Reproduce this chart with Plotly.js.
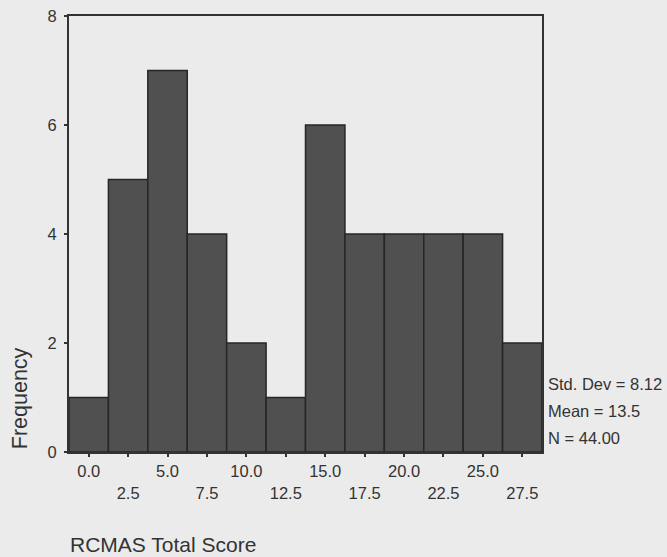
<!DOCTYPE html>
<html>
<head>
<meta charset="utf-8">
<script src="https://cdn.plot.ly/plotly-3.0.1.min.js"></script>
<style>html,body{margin:0;padding:0;background:#ebebeb;}</style>
</head>
<body>
<div id="chart" style="width:667px;height:557px;"></div>
<script>
var binCenters = [0.0, 2.5, 5.0, 7.5, 10.0, 12.5, 15.0, 17.5, 20.0, 22.5, 25.0, 27.5];
var frequencies = [1, 5, 7, 4, 2, 1, 6, 4, 4, 4, 4, 2];
var upperTickVals = [0.0, 5.0, 10.0, 15.0, 20.0, 25.0];
var upperTickText = ["0.0", "5.0", "10.0", "15.0", "20.0", "25.0"];
var lowerTickVals = [2.5, 7.5, 12.5, 17.5, 22.5, 27.5];
var lowerTickText = ["2.5", "7.5", "12.5", "17.5", "22.5", "27.5"];
var yTickVals = [0, 2, 4, 6, 8];
var statsLines = ["Std. Dev = 8.12", "Mean = 13.5", "N = 44.00"];

var fontFam = "Liberation Sans, Arial, sans-serif";
var textCol = "#333333";

var traces = [
  {
    type: "bar",
    x: binCenters,
    y: frequencies,
    width: 2.5,
    marker: {color: "#505050", line: {color: "#262626", width: 1.5}},
    hoverinfo: "x+y"
  },
  {
    type: "scatter",
    mode: "markers",
    x: lowerTickVals,
    y: lowerTickVals.map(function(){return 0;}),
    xaxis: "x2",
    marker: {opacity: 0},
    hoverinfo: "skip",
    showlegend: false
  }
];

var layout = {
  width: 667,
  height: 557,
  paper_bgcolor: "#ebebeb",
  plot_bgcolor: "#ebebeb",
  margin: {l: 69, r: 125, t: 16, b: 105},
  showlegend: false,
  bargap: 0,
  font: {family: fontFam, color: textCol, size: 16},
  xaxis: {
    range: [-1.25, 28.75],
    tickmode: "array",
    tickvals: binCenters,
    ticktext: binCenters.map(function(v){
      var i = upperTickVals.indexOf(v);
      return i >= 0 ? upperTickText[i] : "";
    }),
    ticks: "outside",
    ticklen: 3,
    tickwidth: 2,
    tickcolor: "#333",
    showline: true,
    linecolor: "#333",
    linewidth: 2,
    mirror: true,
    showgrid: false,
    zeroline: false,
    tickfont: {size: 16.5, color: textCol},
    fixedrange: true
  },
  xaxis2: {
    overlaying: "x",
    side: "bottom",
    range: [-1.25, 28.75],
    tickmode: "array",
    tickvals: lowerTickVals,
    ticktext: lowerTickText,
    ticks: "",
    ticklabelstandoff: 29,
    showline: false,
    showgrid: false,
    zeroline: false,
    tickfont: {size: 16.5, color: textCol},
    fixedrange: true
  },
  yaxis: {
    range: [0, 8],
    tickmode: "array",
    tickvals: yTickVals,
    ticks: "outside",
    ticklen: 3,
    tickwidth: 2,
    tickcolor: "#333",
    ticklabelstandoff: 4,
    showline: true,
    linecolor: "#333",
    linewidth: 2,
    mirror: true,
    showgrid: false,
    zeroline: false,
    tickfont: {size: 16.5, color: textCol},
    fixedrange: true
  },
  annotations: [
    {
      text: "Frequency",
      xref: "paper", yref: "paper",
      x: -0.103, y: 0.124,
      xanchor: "center", yanchor: "middle",
      textangle: -90,
      showarrow: false,
      font: {size: 21.5, color: textCol}
    },
    {
      text: "RCMAS Total Score",
      xref: "paper", yref: "paper",
      x: -0.002, y: -0.212,
      xanchor: "left", yanchor: "middle",
      showarrow: false,
      font: {size: 21, color: textCol}
    }
  ].concat(statsLines.map(function(s, i){
    return {
      text: s,
      xref: "paper", yref: "paper",
      x: 1.008, y: 0.156 - i * 0.062,
      xanchor: "left", yanchor: "middle",
      showarrow: false,
      font: {size: 16.5, color: textCol}
    };
  }))
};

Plotly.newPlot("chart", traces, layout, {displayModeBar: false, staticPlot: true});
</script>
</body>
</html>
